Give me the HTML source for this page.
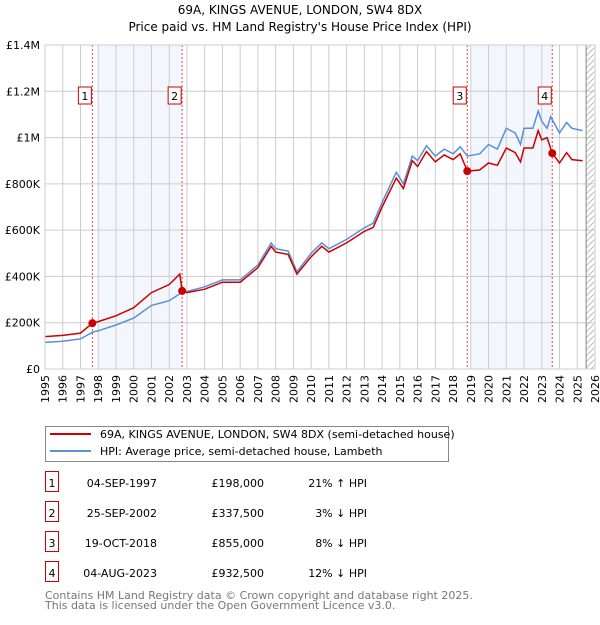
<!DOCTYPE html>
<html><head><meta charset="utf-8"><style>
body{margin:0;background:#fff;font-family:"Liberation Sans","DejaVu Sans",sans-serif;}
svg text{font-family:"DejaVu Sans","Liberation Sans",sans-serif;}
</style></head><body>
<svg id="c" width="600" height="620">
<text x="300" y="14" font-size="12" text-anchor="middle">69A, KINGS AVENUE, LONDON, SW4 8DX</text>
<text x="300" y="31" font-size="12" text-anchor="middle">Price paid vs. HM Land Registry's House Price Index (HPI)</text>
<g id="plot"></g>
<g>
<rect x="45.5" y="426.5" width="403" height="35" fill="#fff" stroke="#888"/>
<line x1="50" y1="434" x2="91" y2="434" stroke="#cc0000" stroke-width="2"/>
<text x="100" y="438" font-size="11">69A, KINGS AVENUE, LONDON, SW4 8DX (semi-detached house)</text>
<line x1="50" y1="451" x2="91" y2="451" stroke="#5b8fd6" stroke-width="2"/>
<text x="100" y="455" font-size="11">HPI: Average price, semi-detached house, Lambeth</text>
</g>
<g id="table" font-size="11"></g>
<text x="45" y="599" font-size="11" fill="#777">Contains HM Land Registry data © Crown copyright and database right 2025.</text>
<text x="45" y="609" font-size="11" fill="#777">This data is licensed under the Open Government Licence v3.0.</text>
</svg>
<script>
const hpiYears=[1995,1996,1997,1997.7,1998,1999,2000,2001,2002,2002.7,2003,2004,2005,2006,2007,2007.75,2008,2008.7,2009.2,2010,2010.6,2011,2012,2013,2013.5,2014,2014.8,2015.2,2015.7,2016,2016.5,2017,2017.5,2018,2018.4,2018.8,2019.5,2020,2020.5,2021,2021.5,2021.8,2022,2022.5,2022.8,2023,2023.3,2023.5,2024,2024.4,2024.7,2025.3];
const hpiValues=[115,120,130,160,165,190,220,275,295,330,335,355,385,385,450,545,520,510,420,500,545,520,560,610,630,720,850,800,920,900,965,920,950,930,960,920,930,970,950,1040,1020,970,1040,1040,1115,1070,1040,1090,1020,1065,1040,1030];
const priceYears=[1995,1996,1997,1997.67,1998,1999,2000,2001,2002,2002.6,2002.73,2003,2004,2005,2006,2007,2007.75,2008,2008.7,2009.2,2010,2010.6,2011,2012,2013,2013.5,2014,2014.8,2015.2,2015.7,2016,2016.5,2017,2017.5,2018,2018.4,2018.8,2019.5,2020,2020.5,2021,2021.5,2021.8,2022,2022.5,2022.8,2023,2023.3,2023.59,2024,2024.4,2024.7,2025.3];
const priceValues=[140,145,155,198,205,230,265,330,365,410,337.5,330,345,375,375,438,530,505,495,410,485,530,505,545,595,612,700,825,780,900,875,940,895,925,905,930,855,860,890,880,955,935,895,955,955,1030,990,1000,932.5,890,935,905,900];
const saleYears=[1997.67,2002.73,2018.8,2023.59];
const saleValues=[198,337.5,855,932.5];
const saleLabels=["1","2","3","4"];
const saleDates=["04-SEP-1997","25-SEP-2002","19-OCT-2018","04-AUG-2023"];
const salePrices=["£198,000","£337,500","£855,000","£932,500"];
const saleHpi=["21% ↑ HPI","3% ↓ HPI","8% ↓ HPI","12% ↓ HPI"];
const yTicks=[0,200,400,600,800,1000,1200,1400];
const yTickLabels=["£0","£200K","£400K","£600K","£800K","£1M","£1.2M","£1.4M"];
const xTicks=[];for(let y=1995;y<=2026;y++)xTicks.push(y);

const NS="http://www.w3.org/2000/svg";
const X0=45,X1=595,Y0=369,Y1=45;
const xs=y=>X0+(y-1995)*(X1-X0)/31;
const ys=v=>Y0-v*(Y0-Y1)/1400;
const plot=document.getElementById('plot');
function mk(tag,attrs,parent){const e=document.createElementNS(NS,tag);for(const k in attrs)e.setAttribute(k,attrs[k]);(parent||plot).appendChild(e);return e;}
// shading
let s=mk('rect',{x:xs(1998),y:Y1,width:xs(2002.73)-xs(1998),height:Y0-Y1,fill:'#eef3fc',opacity:0.7});


s=mk('rect',{x:xs(2019),y:Y1,width:xs(2023.59)-xs(2019),height:Y0-Y1,fill:'#eef3fc',opacity:0.7});


// grid
xTicks.forEach((t,i)=>{const l=mk('line',{x1:xs(t),x2:xs(t),y1:Y1,y2:Y0,stroke:'#ccc'});


const tx=mk('text',{x:0,y:0,'font-size':11,'text-anchor':'end',transform:`translate(${xs(t)+4},${Y0+6}) rotate(-90)`});tx.textContent=t;

});
yTicks.forEach((t,i)=>{const l=mk('line',{x1:X0,x2:X1,y1:ys(t),y2:ys(t),stroke:'#ccc'});


const tx=mk('text',{x:X0-5,y:ys(t)+4,'font-size':11,'text-anchor':'end'});tx.textContent=yTickLabels[i];

});
// hatch
const defs=mk('defs',{});const pat=mk('pattern',{id:'h',width:6,height:6,patternUnits:'userSpaceOnUse'},defs);mk('line',{x1:0,y1:6,x2:6,y2:0,stroke:'#bbb'},pat);
s=mk('rect',{x:xs(2025.5),y:Y1,width:X1-xs(2025.5),height:Y0-Y1,fill:'url(#h)'});


mk('line',{x1:xs(2025.5),x2:xs(2025.5),y1:Y1,y2:Y0,stroke:'#888'});
// sale lines
saleYears.forEach((y,i)=>{const l=mk('line',{x1:xs(y),x2:xs(y),y1:Y1,y2:Y0,stroke:'#e44','stroke-dasharray':'2,2'});


const b=mk('rect',{x:xs(y)-17+3,y:87,width:13,height:17,fill:'#fff',stroke:'#cc0000'});


const t=mk('text',{x:xs(y)-10.5+3,y:100,'font-size':11,'text-anchor':'middle'});t.textContent=saleLabels[i];

});
// lines
const pts=(xa,va)=>xa.map((x,i)=>xs(x).toFixed(1)+','+ys(va[i]).toFixed(1)).join(' ');
let p=mk('polyline',{points:pts(hpiYears,hpiValues),fill:'none',stroke:'#5b8fd6','stroke-width':1.5});


p=mk('polyline',{points:pts(priceYears,priceValues),fill:'none',stroke:'#cc0000','stroke-width':1.5});


saleYears.forEach((y,i)=>{const c=mk('circle',{cx:xs(y),cy:ys(saleValues[i]),r:4,fill:'#cc0000'});

});
mk('rect',{x:X0,y:Y1,width:X1-X0,height:Y0-Y1,fill:'none',stroke:'#ccc'});
// table
const tb=document.getElementById('table');
saleLabels.forEach((lab,i)=>{const yy=483+i*30;
const b=mk('rect',{x:45.5,y:yy-11.5,width:13,height:20,fill:'#fff',stroke:'#cc0000'},tb);


[[52,lab,'middle'],[157,saleDates[i],'end'],[264,salePrices[i],'end'],[367,saleHpi[i],'end']].forEach(([x,t,a])=>{const e=mk('text',{x:x,y:yy+4,'text-anchor':a},tb);e.textContent=t;

});});
</script>
</body></html>
